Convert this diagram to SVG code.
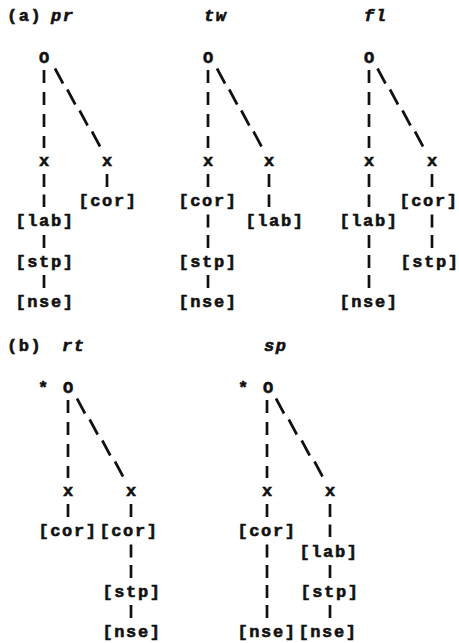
<svg xmlns="http://www.w3.org/2000/svg" width="459" height="643" viewBox="0 0 459 643">
<style>
.t{font-family:"Liberation Mono","Courier New",monospace;font-weight:bold;font-size:17px;letter-spacing:1.6px;fill:#111;stroke:#111;stroke-width:0.6}
.m{text-anchor:middle}
.i{font-style:italic}
.c{stroke:#111;stroke-width:2.7;fill:none}
</style>
<rect width="459" height="643" fill="#fff"/>
<g id="titles">
<text class="t" x="7" y="21">(a)</text>
<text class="t i" x="51" y="21">pr</text>
<text class="t i" x="204" y="21">tw</text>
<text class="t i" x="364" y="21">fl</text>
<text class="t" x="7" y="351">(b)</text>
<text class="t i" x="62" y="351">rt</text>
<text class="t i" x="264" y="351">sp</text>
</g>
<g id="connectors">
<path class="c" d="M44 70V83M44 92V105M44 114V127M44 136V148"/>
<path class="c" d="M55 68.5L63 83.5M67.3 89.5L75.3 104.5M79.6 110.5L87.6 125.5M92 131.5L100 146.5"/>
<path class="c" d="M44 174V187M44 194.5V207"/>
<path class="c" d="M44 235V248"/>
<path class="c" d="M44 275V288"/>
<path class="c" d="M107 174V187"/>
<path class="c" d="M208 70V83M208 92V105M208 114V127M208 136V148"/>
<path class="c" d="M217 68.5L225 83.5M229.2 89.5L237.2 104.5M241.3 110.5L249.3 125.5M253.5 131.5L261.5 146.5"/>
<path class="c" d="M208 174V187"/>
<path class="c" d="M208 214.5V227.5M208 235V248"/>
<path class="c" d="M208 275V288"/>
<path class="c" d="M269 174V187M269 194.5V207"/>
<path class="c" d="M369 70V83M369 92V105M369 114V127M369 136V148"/>
<path class="c" d="M377.5 68.5L385.5 83.5M390 89.5L398 104.5M402.5 110.5L410.5 125.5M415 131.5L423 146.5"/>
<path class="c" d="M369 174V187M369 194.5V207"/>
<path class="c" d="M369 235V248M369 255V268M369 275V288"/>
<path class="c" d="M432 174V187"/>
<path class="c" d="M432 214.5V227.5M432 235V248"/>
<path class="c" d="M68 400V413M68 422V435M68 444V457M68 466V478"/>
<path class="c" d="M77 398.5L85 413.5M89.7 419.5L97.7 434.5M102.3 440.5L110.3 455.5M115 461.5L123 476.5"/>
<path class="c" d="M68 504V517"/>
<path class="c" d="M131 504V517"/>
<path class="c" d="M131 544.5V557.5M131 565V578"/>
<path class="c" d="M131 605V618"/>
<path class="c" d="M267 400V413M267 422V435M267 444V457M267 466V478"/>
<path class="c" d="M276 398.5L284 413.5M288.8 419.5L296.8 434.5M301.7 440.5L309.7 455.5M314.5 461.5L322.5 476.5"/>
<path class="c" d="M267 504V517"/>
<path class="c" d="M267 544.5V557.5M267 565V578M267 585V598M267 605V618"/>
<path class="c" d="M330 504V517M330 524.5V537"/>
<path class="c" d="M330 565V578"/>
<path class="c" d="M330 605V618"/>
</g>
<g id="pr-root"><text class="t m" x="45" y="63">O</text></g>
<g id="pr-x1"><text class="t m" x="45" y="165.5">x</text></g>
<g id="pr-x2"><text class="t m" x="108" y="165.5">x</text></g>
<g id="pr-cor"><text class="t m" x="108" y="206">[cor]</text></g>
<g id="pr-lab"><text class="t m" x="45" y="226">[lab]</text></g>
<g id="pr-stp"><text class="t m" x="45" y="266.5">[stp]</text></g>
<g id="pr-nse"><text class="t m" x="45" y="306.5">[nse]</text></g>
<g id="tw-root"><text class="t m" x="209" y="63">O</text></g>
<g id="tw-x1"><text class="t m" x="209" y="165.5">x</text></g>
<g id="tw-x2"><text class="t m" x="270" y="165.5">x</text></g>
<g id="tw-cor"><text class="t m" x="208" y="206">[cor]</text></g>
<g id="tw-lab"><text class="t m" x="275" y="226">[lab]</text></g>
<g id="tw-stp"><text class="t m" x="208" y="266.5">[stp]</text></g>
<g id="tw-nse"><text class="t m" x="208" y="306.5">[nse]</text></g>
<g id="fl-root"><text class="t m" x="370" y="63">O</text></g>
<g id="fl-x1"><text class="t m" x="370" y="165.5">x</text></g>
<g id="fl-x2"><text class="t m" x="433" y="165.5">x</text></g>
<g id="fl-lab"><text class="t m" x="369" y="226">[lab]</text></g>
<g id="fl-nse"><text class="t m" x="369" y="306.5">[nse]</text></g>
<g id="fl-cor"><text class="t m" x="429" y="206">[cor]</text></g>
<g id="fl-stp"><text class="t m" x="430" y="266.5">[stp]</text></g>
<g id="rt-root"><text class="t m" x="44" y="393">*</text><text class="t m" x="69" y="393">O</text></g>
<g id="rt-x1"><text class="t m" x="69" y="495.5">x</text></g>
<g id="rt-x2"><text class="t m" x="132" y="495.5">x</text></g>
<g id="rt-cor1"><text class="t m" x="68" y="536">[cor]</text></g>
<g id="rt-cor2"><text class="t m" x="129" y="536">[cor]</text></g>
<g id="rt-stp"><text class="t m" x="132" y="596.5">[stp]</text></g>
<g id="rt-nse"><text class="t m" x="132" y="636.5">[nse]</text></g>
<g id="sp-root"><text class="t m" x="244" y="393">*</text><text class="t m" x="269" y="393">O</text></g>
<g id="sp-x1"><text class="t m" x="268" y="495.5">x</text></g>
<g id="sp-x2"><text class="t m" x="331" y="495.5">x</text></g>
<g id="sp-cor"><text class="t m" x="267" y="536">[cor]</text></g>
<g id="sp-lab"><text class="t m" x="329" y="556.5">[lab]</text></g>
<g id="sp-stp"><text class="t m" x="330" y="596.5">[stp]</text></g>
<g id="sp-nse1"><text class="t m" x="267" y="636.5">[nse]</text></g>
<g id="sp-nse2"><text class="t m" x="328" y="636.5">[nse]</text></g>
</svg>
